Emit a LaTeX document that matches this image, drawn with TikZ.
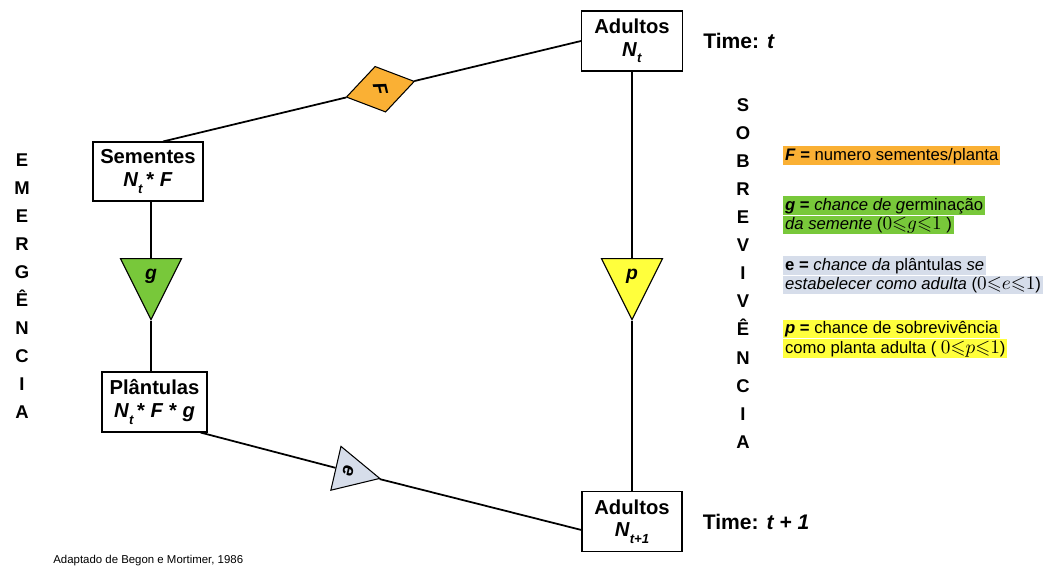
\documentclass[tikz,border=0pt]{standalone}
\usepackage[no-math]{fontspec}
\usepackage{amssymb}
\setmainfont{Liberation Sans}
\usetikzlibrary{shapes.geometric, positioning, calc}
\definecolor{fOrange}{RGB}{250,176,52}
\definecolor{gGreen}{RGB}{120,200,58}
\definecolor{eBlue}{RGB}{214,221,234}
\definecolor{pYellow}{RGB}{255,255,60}
\newcommand{\lowsub}[1]{\raisebox{-0.6ex}{\fontsize{7.5}{8}\selectfont\textit{#1}}}
\newcommand{\rng}[1]{{\fontsize{11}{11}\selectfont$0{\leqslant}#1{\leqslant}1$}}

\begin{document}
\begin{tikzpicture}[
    x=0.02cm, y=-0.02cm,
    box/.style={rectangle, draw, line width=0.6pt, align=center, inner sep=0pt, minimum height=1.2cm, font=\bfseries\fontsize{11.5}{13}\selectfont},
    tri/.style={isosceles triangle, isosceles triangle stretches, draw, line width=0.6pt, inner sep=0pt, font=\bfseries\itshape\fontsize{11}{12}\selectfont},
    link/.style={line width=1pt},
    vword/.style={align=center, inner sep=0pt, font=\bfseries\fontsize{10.5}{15.95}\selectfont},
    timelbl/.style={anchor=west, inner sep=0pt, font=\bfseries\fontsize{12}{14}\selectfont},
    hl/.style={anchor=west, inner xsep=1pt, inner ysep=0pt, text height=8pt, text depth=2.6pt, font=\fontsize{9.5}{11}\selectfont}
]
    \useasboundingbox (0,0) rectangle (1046,575);

    % boxes
    \node[box, minimum width=2.02cm] (adultoA) at (632,41) {Adultos\\\textit{N}\lowsub{t}};
    \node[box, minimum width=2.0cm] (adultoB) at (632,521.5) {Adultos\\\textit{N}\lowsub{t+1}};
    \node[box, minimum width=2.2cm, minimum height=1.18cm] (sementes) at (148,171.5) {Sementes\\\textit{N}\lowsub{t}\,* \textit{F}};
    \node[box, minimum width=2.1cm] (plantulas) at (154.5,402) {Plântulas\\\textit{N}\lowsub{t}\,* \textit{F} * \textit{g}};

    \node[timelbl, right=0.4cm of adultoA] (tempoA) {Time: \textit{t}};
    \node[timelbl, right=0.4cm of adultoB] (tempoB) {Time: \textit{t + 1}};

    % end points of the slanted links
    \coordinate (semF) at ([xshift=0.3cm]sementes.north);
    \coordinate (pltE) at ([xshift=-0.14cm]plantulas.south east);
    \coordinate (adbE) at ([yshift=-0.17cm]adultoB.west);

    % parameters
    \node[diamond, draw, line width=0.6pt, fill=fOrange, inner sep=0pt, minimum width=0.94cm, minimum height=1.4cm, rotate=-77, font=\bfseries\itshape\fontsize{11}{12}\selectfont] (F) at ($(semF)!0.52!(adultoA.west)$) {F};
    \node[tri, fill=gGreen, shape border rotate=270, minimum width=1.22cm, minimum height=1.22cm, anchor=apex] (g) at (151,321) {g};
    \node[tri, fill=pYellow, shape border rotate=270, minimum width=1.22cm, minimum height=1.22cm, anchor=apex] (p) at (632,321) {p};
    \node[tri, fill=eBlue, shape border rotate=90, rotate=-103, minimum width=0.9cm, minimum height=0.9cm, anchor=apex] (e) at ($(pltE)!0.474!(adbE)$) {e};

    \draw[link] (semF) -- (F) -- (adultoA.west);
    \draw[link] (g |- sementes.south) -- (g) -- (g |- plantulas.north);
    \draw[link] (pltE) -- (e) -- (adbE);
    \draw[link] (adultoA) -- (p) -- (adultoB);

    % side words
    \node[vword] (emergencia) at (22,286.5) {E\\M\\E\\R\\G\\Ê\\N\\C\\I\\A};
    \node[vword] (sobrevivencia) at (743,273.5) {S\\O\\B\\R\\E\\V\\I\\V\\Ê\\N\\C\\I\\A};

    % legend
    \node[hl, fill=fOrange] (legF) at (783,155.5) {\textbf{\textit{F} =} numero sementes/planta};
    \node[hl, fill=gGreen] (legG1) at (783,205.5) {\textbf{\textit{g} =} \textit{chance de g}erminação\ };
    \node[hl, fill=gGreen, below=0pt of legG1.south west, anchor=north west] (legG2) {\textit{da semente} (\rng{g} )\ };
    \node[hl, fill=eBlue] (legE1) at (783,265.5) {\textbf{e =} \textit{chance da} plântulas \textit{se}};
    \node[hl, fill=eBlue, below=0pt of legE1.south west, anchor=north west] (legE2) {\textit{estabelecer como adulta} (\rng{e})};
    \node[hl, fill=pYellow] (legP1) at (783,329) {\textbf{\textit{p} =} chance de sobrevivência};
    \node[hl, fill=pYellow, below=0pt of legP1.south west, anchor=north west] (legP2) {como planta adulta ( \rng{p})};

    \node[anchor=west, inner sep=0pt, font=\fontsize{6.5}{8}\selectfont] (fonte) at (53,561) {Adaptado de Begon e Mortimer, 1986};
\end{tikzpicture}
\end{document}
